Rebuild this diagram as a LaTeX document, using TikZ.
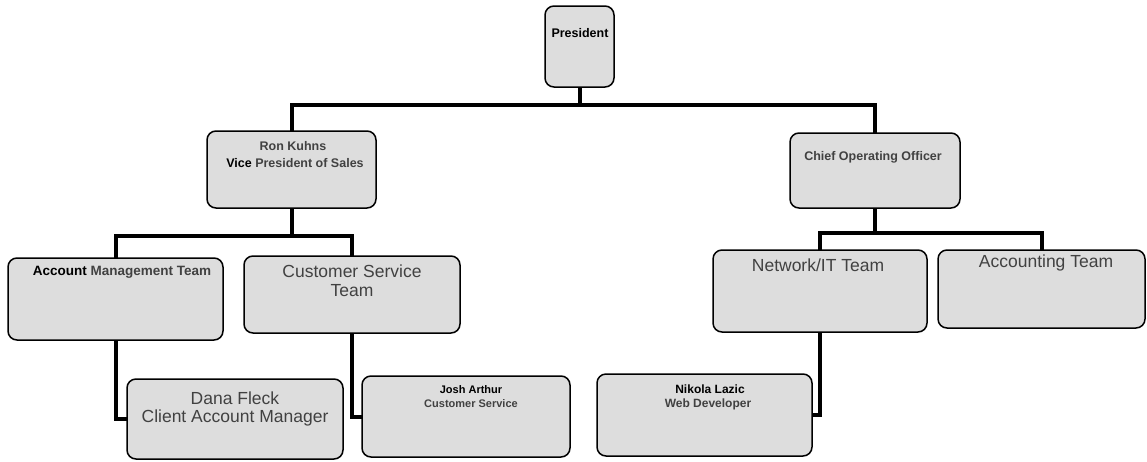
\documentclass[tikz,border=0pt]{standalone}
\usepackage{fontspec}
\setmainfont{Liberation Sans}
\definecolor{boxfill}{RGB}{221,221,221}
\definecolor{txtgray}{RGB}{65,65,65}
\begin{document}
\begin{tikzpicture}[x=1pt,y=-1pt,
  box/.style={draw=black, line width=1.5pt, rounded corners=9pt, fill=boxfill, inner sep=0pt, outer sep=0pt},
  wire/.style={line width=4pt, draw=black},
  small/.style={font=\fontsize{12.5}{13}\selectfont\bfseries, inner sep=0pt, text=txtgray},
  tiny/.style={font=\fontsize{11}{12}\selectfont\bfseries, inner sep=0pt, text=txtgray},
  big/.style={font=\fontsize{17.5}{19}\selectfont, inner sep=0pt, text=txtgray}]
\useasboundingbox (0,0) rectangle (1147,461);
% boxes
\node[box, minimum width=69pt, minimum height=81pt] (pres) at (579.5,46.5) {};
\node[box, minimum width=169pt, minimum height=77pt] (vp) at (291.5,169.5) {};
\node[box, minimum width=170pt, minimum height=75pt] (coo) at (875,170.5) {};
\node[box, minimum width=215pt, minimum height=82pt] (am) at (115.5,299) {};
\node[box, minimum width=216pt, minimum height=77pt] (cs) at (352,294.5) {};
\node[box, minimum width=214pt, minimum height=82pt] (net) at (820,291) {};
\node[box, minimum width=207pt, minimum height=78pt] (acc) at (1041.5,289) {};
\node[box, minimum width=216pt, minimum height=80pt] (dana) at (235,419) {};
\node[box, minimum width=208pt, minimum height=81pt] (josh) at (466,416.5) {};
\node[box, minimum width=215pt, minimum height=82pt] (nik) at (704.5,415) {};
% texts
\node[small, text=black] (tpres) at (580,33) {President};
\node[small] (tron) at (293,146) {Ron Kuhns};
\node[small] (tvice) at (295,163) {{\color{black}Vice} President of Sales};
\node[small] (tcoo) at (873,157) {Chief Operating Officer};
\node[small, font=\fontsize{13.5}{14}\selectfont\bfseries] (tam) at (122,272) {{\color{black}Account} Management Team};
\node[big] (tcs1) at (352,271) {Customer Service};
\node[big] (tcs2) at (352,291) {Team};
\node[big] (tnet) at (818,265) {Network/IT Team};
\node[big] (tacc) at (1046,263) {Accounting Team};
\node[big] (tdana1) at (235,398) {Dana Fleck};
\node[big] (tdana2) at (235,418) {Client Account Manager};
\node[tiny, text=black] (tjosh) at (471,390) {Josh Arthur};
\node[tiny] (tjcs) at (471,404) {Customer Service};
\node[tiny, font=\fontsize{12}{13}\selectfont\bfseries, text=black] (tnik) at (710,389) {Nikola Lazic};
\node[tiny, font=\fontsize{12}{13}\selectfont\bfseries] (tweb) at (708,404) {Web Developer};
% connectors
\coordinate (b1) at (579.5,105);
\coordinate (b2) at (291.5,236);
\coordinate (b3) at (875,233);
\draw[wire] (pres.south) -- (b1);
\draw[wire] (b1) -| (vp.north);
\draw[wire] (b1) -| (coo.north);
\draw[wire] (vp.south) -- (b2);
\draw[wire] (b2) -| (am.north);
\draw[wire] (b2) -| (cs.north);
\draw[wire] (coo.south) -- (b3);
\draw[wire] (b3) -| (net.north);
\draw[wire] (b3) -| (acc.north);
\draw[wire] (am.south) |- (dana.west);
\draw[wire] (cs.south) |- (josh.west);
\draw[wire] (net.south) |- (nik.east);
\end{tikzpicture}
\end{document}
